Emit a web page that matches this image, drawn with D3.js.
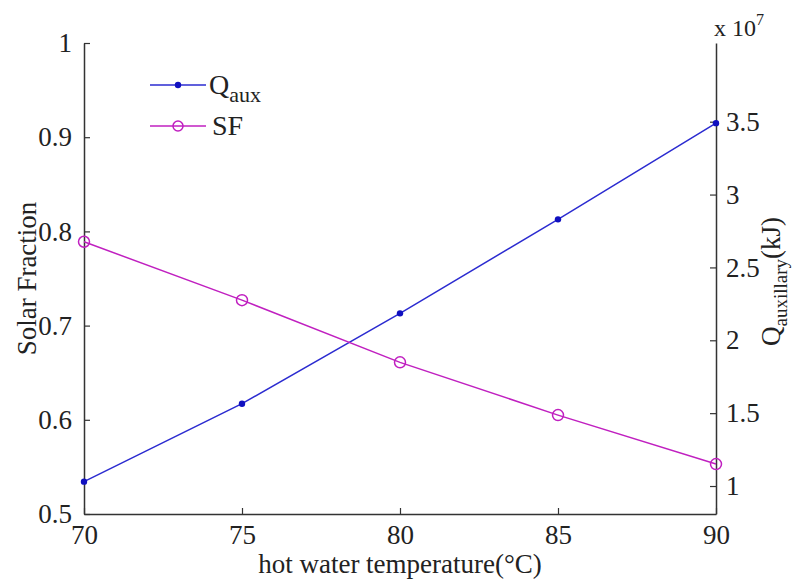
<!DOCTYPE html>
<html><head><meta charset="utf-8">
<script src="https://cdn.jsdelivr.net/npm/d3@7"></script>
<style>body{margin:0;background:#fff}svg{display:block}text{font-family:"Liberation Serif","Times New Roman",serif;fill:#222}</style>
</head><body><svg id="c" width="800" height="579"></svg>
<script>
const temps = [70, 75, 80, 85, 90];
const qAux = [1.03, 1.565, 2.185, 2.83, 3.49];   // x 10^7 kJ
const solarFraction = [0.789, 0.727, 0.661, 0.605, 0.553];
const xTicks = [70, 75, 80, 85, 90];
const leftTicks = [0.5, 0.6, 0.7, 0.8, 0.9, 1];
const rightTicks = [1, 1.5, 2, 2.5, 3, 3.5];

const svg = d3.select("#c");
const L = 84, R = 716, T = 43, B = 514;
const x = d3.scaleLinear().domain([70, 90]).range([L, R]);
const yL = d3.scaleLinear().domain([0.5, 1]).range([B, T]);
const yR = d3.scaleLinear().domain([0.808, 4.04]).range([B, T]);
const fs = 27, axisColor = "#333";

// axes
const gx = svg.append("g").attr("transform", `translate(0,${B})`)
  .call(d3.axisBottom(x).tickValues(xTicks).tickSizeInner(-6).tickSizeOuter(0).tickPadding(11).tickFormat(d3.format("d")));
const gl = svg.append("g").attr("transform", `translate(${L},0)`)
  .call(d3.axisLeft(yL).tickValues(leftTicks).tickSizeInner(-6).tickSizeOuter(0).tickPadding(12).tickFormat(d => d === 1 ? "1" : d3.format(".1f")(d)));
const gr = svg.append("g").attr("transform", `translate(${R},0)`)
  .call(d3.axisRight(yR).tickValues(rightTicks).tickSizeInner(-6).tickSizeOuter(0).tickPadding(10).tickFormat(d => Number.isInteger(d) ? String(d) : d3.format(".1f")(d)));
[gx, gl, gr].forEach(g => {
  g.select(".domain").attr("stroke", axisColor).attr("stroke-width", 1.5);
  g.selectAll(".tick line").attr("stroke", axisColor).attr("stroke-width", 1.2);
  g.selectAll(".tick text").attr("font-size", fs).attr("font-family", "Liberation Serif").attr("fill", "#222");
});
gx.selectAll(".tick text").attr("dy", "0.7em");

// lines
const blue = "#2b2bd0", mag = "#c020c0";
const lineQ = d3.line().x((d, i) => x(temps[i])).y(d => yR(d));
const lineS = d3.line().x((d, i) => x(temps[i])).y(d => yL(d));
svg.append("path").attr("d", lineQ(qAux)).attr("fill", "none").attr("stroke", blue).attr("stroke-width", 1.5);
svg.append("path").attr("d", lineS(solarFraction)).attr("fill", "none").attr("stroke", mag).attr("stroke-width", 1.5);
svg.selectAll(".qd").data(qAux).join("circle").attr("cx", (d, i) => x(temps[i])).attr("cy", d => yR(d)).attr("r", 3.2).attr("fill", "#1010c0");
svg.selectAll(".sd").data(solarFraction).join("circle").attr("cx", (d, i) => x(temps[i])).attr("cy", d => yL(d)).attr("r", 5.5).attr("fill", "none").attr("stroke", mag).attr("stroke-width", 1.5);

// axis labels
svg.append("text").attr("transform", `translate(36,${(T + B) / 2}) rotate(-90)`).attr("text-anchor", "middle").attr("font-size", 27).text("Solar Fraction");
svg.append("text").attr("x", (L + R) / 2).attr("y", 573).attr("text-anchor", "middle").attr("font-size", 27).text("hot water temperature(°C)");
const rl = svg.append("text").attr("transform", `translate(780,${(T + B) / 2 + 3}) rotate(-90)`).attr("text-anchor", "middle").attr("font-size", 27);
rl.append("tspan").text("Q");
rl.append("tspan").attr("font-size", 19).attr("dy", 7).text("auxillary");
rl.append("tspan").attr("dy", -7).text("(kJ)");
const ex = svg.append("text").attr("x", 714).attr("y", 36).attr("font-size", 24);
ex.append("tspan").text("x 10");
ex.append("tspan").attr("font-size", 16).attr("dy", -11).text("7");

// legend
const lg = svg.append("g");
lg.append("line").attr("x1", 150).attr("x2", 206).attr("y1", 85).attr("y2", 85).attr("stroke", blue).attr("stroke-width", 1.5);
lg.append("circle").attr("cx", 178).attr("cy", 85).attr("r", 3.2).attr("fill", "#1010c0");
const lq = lg.append("text").attr("x", 209).attr("y", 94).attr("font-size", 28);
lq.append("tspan").text("Q");
lq.append("tspan").attr("font-size", 22).attr("dy", 8).text("aux");
lg.append("line").attr("x1", 150).attr("x2", 206).attr("y1", 126).attr("y2", 126).attr("stroke", mag).attr("stroke-width", 1.5);
lg.append("circle").attr("cx", 178).attr("cy", 126).attr("r", 5).attr("fill", "none").attr("stroke", mag).attr("stroke-width", 1.5);
lg.append("text").attr("x", 212).attr("y", 135).attr("font-size", 28).text("SF");
</script></body></html>
